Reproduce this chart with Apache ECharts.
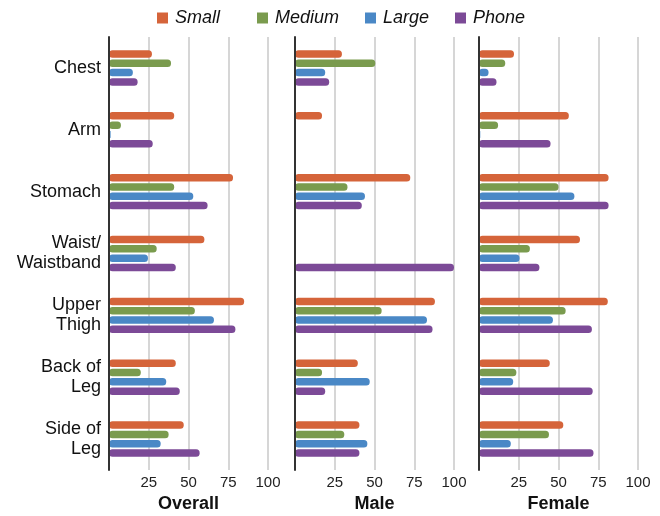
<!DOCTYPE html>
<html>
<head>
<meta charset="utf-8">
<script src="https://cdn.jsdelivr.net/npm/echarts@6/dist/echarts.min.js"></script>
<style>html,body{margin:0;padding:0;background:#fff;}#c{width:660px;height:516px;}</style>
</head>
<body>
<div id="c"></div>
<script>
var categories = ['Chest', 'Arm', 'Stomach', 'Waist/\nWaistband', 'Upper\nThigh', 'Back of\nLeg', 'Side of\nLeg'];
var seriesNames = ['Small', 'Medium', 'Large', 'Phone'];
var panels = ['Overall', 'Male', 'Female'];
var tickValues = [25, 50, 75, 100];

var overallSmall  = [27, 41, 78, 60, 85, 42, 47];
var overallMedium = [39, 7.5, 41, 30, 54, 20, 37.5];
var overallLarge  = [15, 1, 53, 24.5, 66, 36, 32.5];
var overallPhone  = [18, 27.5, 62, 42, 79.5, 44.5, 57];

var maleSmall  = [29.5, 17, 72.5, 0.6, 88, 39.5, 40.5];
var maleMedium = [50.5, 0.6, 33, 0.6, 54.5, 17, 31];
var maleLarge  = [19, 0.6, 44, 0.6, 83, 47, 45.5];
var malePhone  = [21.5, 0.6, 42, 100, 86.5, 19, 40.5];

var femaleSmall  = [22, 56.5, 81.5, 63.5, 81, 44.5, 53];
var femaleMedium = [16.5, 12, 50, 32, 54.5, 23.5, 44];
var femaleLarge  = [6, 0.8, 60, 25.5, 46.5, 21.5, 20];
var femalePhone  = [11, 45, 81.5, 38, 71, 71.5, 72];

var colors = ['#D5643A', '#7A9B4E', '#4A88C6', '#7C4A97'];
var panelData = [
  [overallSmall, overallMedium, overallLarge, overallPhone],
  [maleSmall, maleMedium, maleLarge, malePhone],
  [femaleSmall, femaleMedium, femaleLarge, femalePhone]
];
var lefts = [109, 295, 479];
var gridW = 159;
var legendLefts = [157, 257, 365, 455];

var grids = [], xAxes = [], yAxes = [], series = [], legends = [];
for (var p = 0; p < 3; p++) {
  grids.push({left: lefts[p], width: gridW, top: 37, bottom: 46, outerBoundsMode: 'none', containLabel: false});
  xAxes.push({
    type: 'value', gridIndex: p, min: 0, max: 100, interval: 25,
    axisLine: {show: false}, axisTick: {show: false},
    splitLine: {show: true, lineStyle: {color: '#d6d6d6', width: 2}},
    axisLabel: {
      color: '#222', fontSize: 15, fontFamily: 'Liberation Sans, Arial', margin: 5,
      formatter: function (v) { return tickValues.indexOf(v) >= 0 ? String(v) : ''; }
    },
    name: panels[p], nameLocation: 'middle', nameGap: 25,
    nameTextStyle: {color: '#111', fontSize: 18, fontWeight: 'bold', fontFamily: 'Liberation Sans, Arial'}
  });
  yAxes.push({
    type: 'category', gridIndex: p, data: categories, inverse: true,
    axisLine: {show: true, lineStyle: {color: '#333', width: 2}},
    axisTick: {show: false},
    axisLabel: {
      show: p === 0, color: '#111', fontSize: 18, lineHeight: 20, margin: 8,
      fontFamily: 'Liberation Sans, Arial', align: 'right'
    },
    z: 10
  });
  for (var s = 0; s < 4; s++) {
    series.push({
      name: seriesNames[s], type: 'bar', xAxisIndex: p, yAxisIndex: p,
      data: panelData[p][s], barWidth: 7.5, barGap: '24%',
      itemStyle: {color: colors[s], borderRadius: 3.5},
      emphasis: {disabled: true}
    });
  }
}
for (var i = 0; i < 4; i++) {
  legends.push({
    data: [seriesNames[i]], top: 9, left: legendLefts[i], itemWidth: 11, itemHeight: 11,
    icon: 'rect', padding: 0,
    textStyle: {color: '#111', fontSize: 18, fontStyle: 'italic', fontFamily: 'Liberation Sans, Arial', padding: [0, 0, 0, 2]}
  });
}

var chart = echarts.init(document.getElementById('c'), null, {renderer: 'canvas'});
chart.setOption({
  animation: false,
  color: colors,
  legend: legends,
  grid: grids, xAxis: xAxes, yAxis: yAxes, series: series
});
</script>
</body>
</html>
